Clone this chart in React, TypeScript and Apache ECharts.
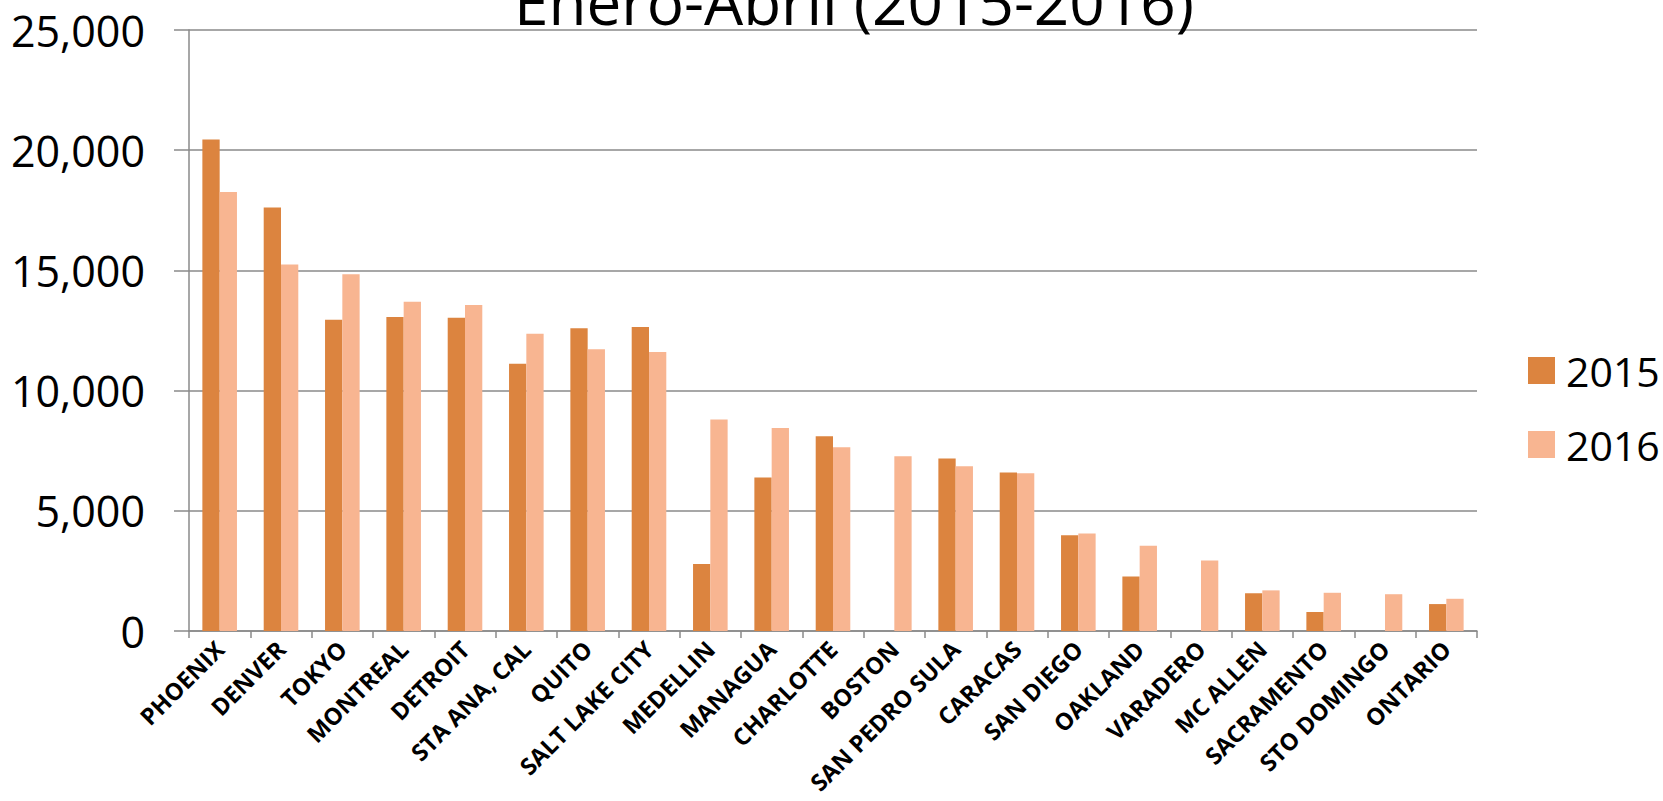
import React, { useEffect, useRef } from "react";
import * as echarts from "echarts";

const titleText = "Enero-Abril (2015-2016)";
const categories = [
  "PHOENIX", "DENVER", "TOKYO", "MONTREAL", "DETROIT", "STA ANA, CAL", "QUITO",
  "SALT LAKE CITY", "MEDELLIN", "MANAGUA", "CHARLOTTE", "BOSTON", "SAN PEDRO SULA",
  "CARACAS", "SAN DIEGO", "OAKLAND", "VARADERO", "MC ALLEN", "SACRAMENTO",
  "STO DOMINGO", "ONTARIO",
];
const seriesNames = ["2015", "2016"];
const values2015 = [20450, 17620, 12950, 13060, 13030, 11120, 12590, 12650, 2790, 6390, 8100, 0, 7180, 6590, 3980, 2270, 0, 1570, 790, 0, 1120];
const values2016 = [18260, 15250, 14840, 13700, 13560, 12370, 11720, 11610, 8800, 8440, 7640, 7270, 6850, 6560, 4060, 3550, 2930, 1690, 1590, 1530, 1340];
const yMin = 0;
const yMax = 25000;
const yStep = 5000;

const colors = ["#DC843F", "#F8B591"];
const FONT = "'Open Sans', 'Noto Sans', sans-serif";
const AXIS_GRAY = "#8a8a8a";

export default function App() {
  const ref = useRef<HTMLDivElement>(null);
  useEffect(() => {
    if (!ref.current) return;
    const chart = echarts.init(ref.current, null, { renderer: "svg" });
    chart.setOption({
      animation: false,
      backgroundColor: "#ffffff",
      textStyle: { fontFamily: FONT },
      graphic: [
        {
          type: "text",
          x: 854,
          y: 1,
          style: {
            text: titleText,
            font: `400 62px ${FONT}`,
            fill: "#000",
            align: "center",
            verticalAlign: "middle",
          },
          z: 10,
        },
      ],
      legend: {
        orient: "vertical",
        left: 1523,
        top: 345,
        itemWidth: 27,
        itemHeight: 27,
        itemGap: 33,
        icon: "rect",
        data: seriesNames,
        textStyle: {
          fontFamily: FONT,
          fontSize: 41,
          lineHeight: 41,
          color: "#000",
          padding: [0, 0, 0, 6],
        },
      },
      grid: { left: 189, right: 186, top: 30, bottom: 170, containLabel: false },
      xAxis: {
        type: "category",
        data: categories,
        axisLine: { show: true, lineStyle: { color: AXIS_GRAY, width: 1.5 } },
        axisTick: { show: true, length: 7, lineStyle: { color: AXIS_GRAY, width: 1.5 } },
        axisLabel: {
          interval: 0,
          rotate: 45,
          margin: 14,
          fontFamily: FONT,
          fontWeight: "bold",
          fontSize: 23.5,
          color: "#000",
        },
        splitLine: { show: false },
      },
      yAxis: {
        type: "value",
        min: yMin,
        max: yMax,
        interval: yStep,
        axisLine: { show: true, lineStyle: { color: AXIS_GRAY, width: 1.5 } },
        axisTick: { show: true, length: 15, lineStyle: { color: AXIS_GRAY, width: 1.5 } },
        axisLabel: {
          margin: 44,
          fontFamily: FONT,
          fontSize: 43,
          color: "#000",
          formatter: (v: number) => v.toLocaleString("en-US"),
        },
        splitLine: { show: true, lineStyle: { color: AXIS_GRAY, width: 1.5 } },
      },
      series: [
        {
          name: seriesNames[0],
          type: "bar",
          data: values2015,
          barGap: "0%",
          barCategoryGap: "43.6%",
          itemStyle: { color: colors[0] },
        },
        {
          name: seriesNames[1],
          type: "bar",
          data: values2016,
          barGap: "0%",
          barCategoryGap: "43.6%",
          itemStyle: { color: colors[1] },
        },
      ],
    });
    return () => chart.dispose();
  }, []);
  return (
    <div
      ref={ref}
      style={{ position: "fixed", left: 0, top: 0, width: 1663, height: 801 }}
    />
  );
}
